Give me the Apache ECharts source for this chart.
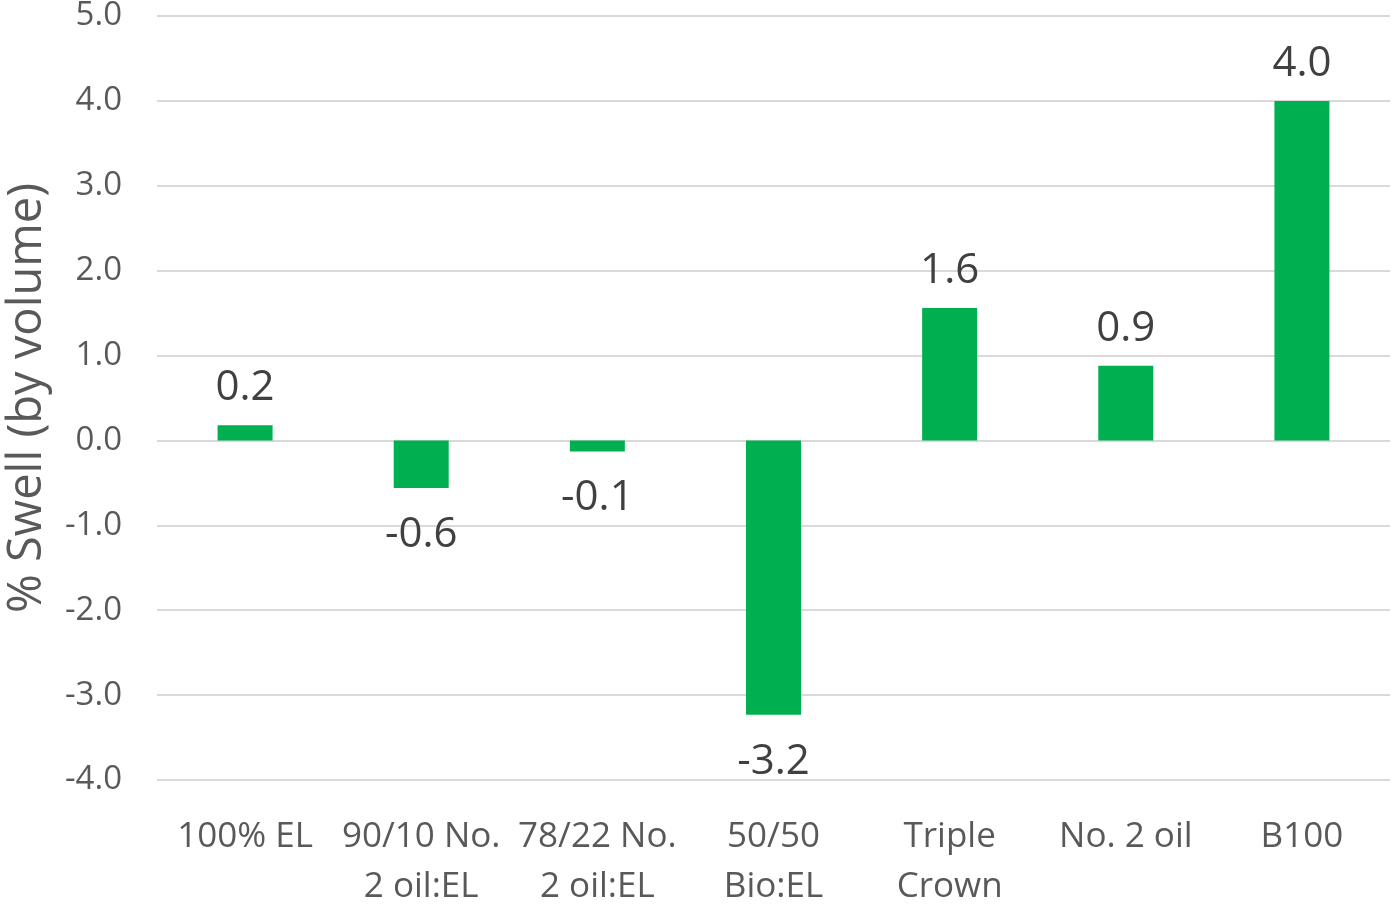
<!DOCTYPE html>
<html>
<head>
<meta charset="utf-8">
<script src="https://cdn.jsdelivr.net/npm/echarts@6/dist/echarts.min.js"></script>
<style>
  html, body { margin: 0; padding: 0; background: #fff; }
  #chart { width: 1392px; height: 904px; }
</style>
</head>
<body>
<div id="chart"></div>
<script>
// Fuel blends tested and their volume swell (%)
const categories = ['100% EL', '90/10 No.\n2 oil:EL', '78/22 No.\n2 oil:EL', '50/50\nBio:EL', 'Triple\nCrown', 'No. 2 oil', 'B100'];
const swellValues = [0.18, -0.56, -0.13, -3.23, 1.56, 0.88, 4.0];
const yTicks = { min: -4, max: 5, step: 1 };
const axisTitle = '% Swell (by volume)';

const FONT = '"Open Sans", "Noto Sans", sans-serif';

const chart = echarts.init(document.getElementById('chart'), null, { renderer: 'canvas' });

// Positive bars get their label above, negative bars below
const barData = swellValues.map(v => ({
  value: v,
  label: v < 0 ? { position: 'bottom', distance: 26 } : { position: 'top', distance: 16 }
}));

chart.setOption({
  animation: false,
  backgroundColor: '#ffffff',
  grid: { left: 157, right: 2, top: 16, bottom: 124, containLabel: false, outerBoundsMode: 'none' },
  xAxis: {
    type: 'category',
    data: categories,
    position: 'bottom',
    axisLine: { show: false, onZero: false },
    axisTick: { show: false },
    axisLabel: {
      interval: 0,
      color: '#595959',
      fontFamily: FONT,
      fontSize: 35,
      lineHeight: 50,
      margin: 32
    }
  },
  yAxis: {
    type: 'value',
    min: yTicks.min,
    max: yTicks.max,
    interval: yTicks.step,
    name: axisTitle,
    nameLocation: 'middle',
    nameRotate: 90,
    nameGap: 106,
    nameTextStyle: { color: '#595959', fontFamily: FONT, fontSize: 47 },
    axisLine: { show: false },
    axisTick: { show: false },
    splitLine: { lineStyle: { color: '#d9d9d9', width: 2 } },
    axisLabel: {
      color: '#595959',
      fontFamily: FONT,
      fontSize: 33,
      margin: 35,
      formatter: v => v.toFixed(1)
    }
  },
  series: [{
    type: 'bar',
    data: barData,
    barWidth: 55,
    itemStyle: { color: '#00b050' },
    label: {
      show: true,
      color: '#404040',
      fontFamily: FONT,
      fontSize: 42,
      formatter: p => p.value.toFixed(1)
    }
  }]
});
</script>
</body>
</html>
